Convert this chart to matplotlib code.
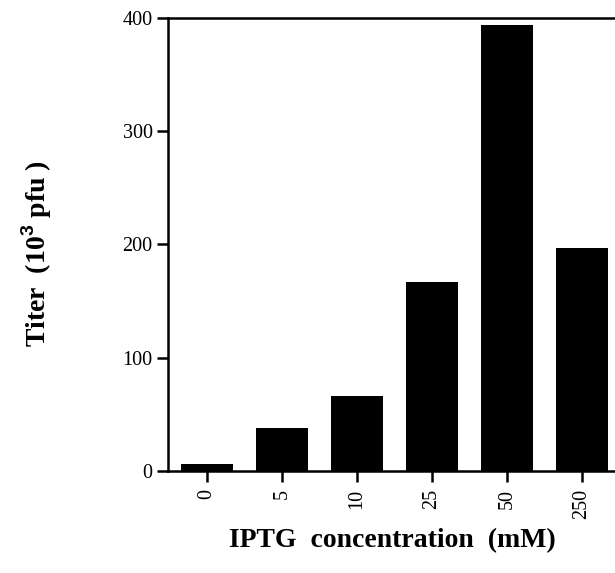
import numpy as np
import matplotlib.pyplot as plt

plt.rcParams['font.family'] = 'Liberation Serif'
plt.rcParams['mathtext.fontset'] = 'custom'
plt.rcParams['mathtext.bf'] = 'Liberation Sans:bold'
plt.rcParams['mathtext.rm'] = 'Liberation Serif'

# data
concentrations = ["0", "5", "10", "25", "50", "250"]
titer = [6, 38, 66, 167, 394, 197]

fig = plt.figure(figsize=(6.15, 5.73), dpi=100)
ax = fig.add_axes([0.273, 0.178, 0.727, 0.7906])

x = np.arange(len(concentrations))
ax.bar(x, titer, width=0.7, color="black", edgecolor="none")

ax.set_xlim(-0.52, 5.44)
ax.set_ylim(0, 400)
ax.set_yticks([0, 100, 200, 300, 400])
ax.set_xticks(x)
ax.set_xticklabels(concentrations, rotation=90)

for s in ["left", "bottom", "top"]:
    ax.spines[s].set_linewidth(1.8)
ax.spines["right"].set_visible(False)
ax.tick_params(axis="both", direction="out", length=8, width=1.8, labelsize=14.5)
ax.tick_params(axis="y", pad=3)
ax.tick_params(axis="x", pad=5)

ax.set_xlabel("IPTG  concentration  (mM)", fontsize=20, fontweight="bold")
ax.xaxis.set_label_coords(0.501, -0.125)
ax.set_ylabel(r"Titer  (10$^{\mathbf{3}}$ pfu )", fontsize=20, fontweight="bold")
ax.yaxis.set_label_coords(-0.255, 0.48)

fig.savefig("out.png")
